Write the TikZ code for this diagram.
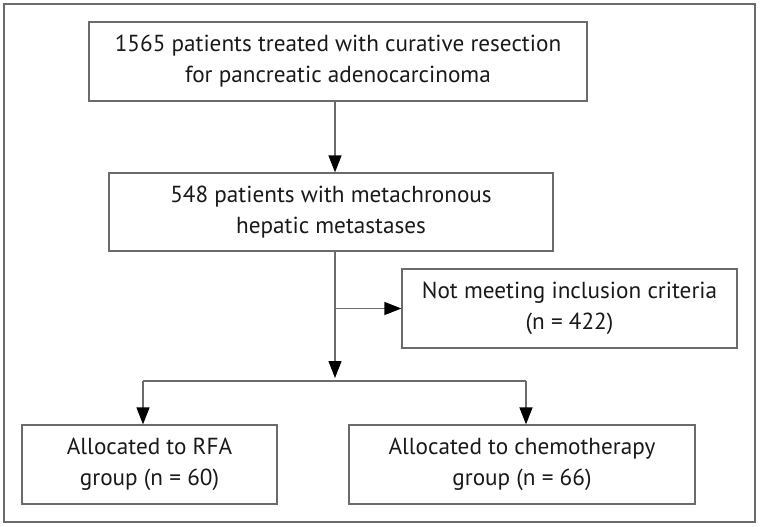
\documentclass[tikz,border=0pt]{standalone}
\usepackage{fontspec}
\setmainfont{PT Sans}
\usetikzlibrary{arrows.meta}
\definecolor{linegray}{gray}{0.42}
\definecolor{textcol}{gray}{0.1}
\tikzset{
  box/.style={draw=linegray, line width=1.2pt, rectangle, align=center, inner sep=0pt,
    font=\fontsize{23.2}{31}\selectfont, text=textcol},
  conn/.style={draw=linegray, line width=1.2pt},
  arr/.style={conn, -{Triangle[length=17pt,width=13pt,fill=black,color=black]}},
}
\begin{document}
\begin{tikzpicture}[x=1pt,y=-1pt]
\useasboundingbox (0,0) rectangle (761,527);
\draw[draw=linegray, line width=1.2pt] (4,4) rectangle (755,522);
\node[box, minimum width=498pt, minimum height=79pt] (b1) at (338,61.5)
  {1565 patients treated with curative resection\\for pancreatic adenocarcinoma};
\node[box, minimum width=444pt, minimum height=78pt] (b2) at (331,212)
  {548 patients with metachronous\\hepatic metastases};
\node[box, minimum width=335pt, minimum height=79pt] (b3) at (569.5,308.5)
  {Not meeting inclusion criteria\\(n = 422)};
\node[box, minimum width=255pt, minimum height=79pt] (b4) at (149.5,464.5)
  {Allocated to RFA\\group (n = 60)};
\node[box, minimum width=346pt, minimum height=79pt] (b5) at (522,464.5)
  {Allocated to chemotherapy\\group (n = 66)};
\coordinate (spine) at (335,381);
\coordinate (tipm) at (335,378);
\coordinate (left) at (143,381);
\coordinate (right) at (526,381);
\draw[arr] (b1.south -| spine) -- (b2.north -| spine);
\draw[arr] (b2.south -| spine) -- (tipm);
\draw[arr] (spine |- b3.west) -- (b3.west);
\draw[conn] (left) -- (right);
\draw[arr] (left) -- (left |- b4.north);
\draw[arr] (right) -- (right |- b5.north);
\end{tikzpicture}
\end{document}
